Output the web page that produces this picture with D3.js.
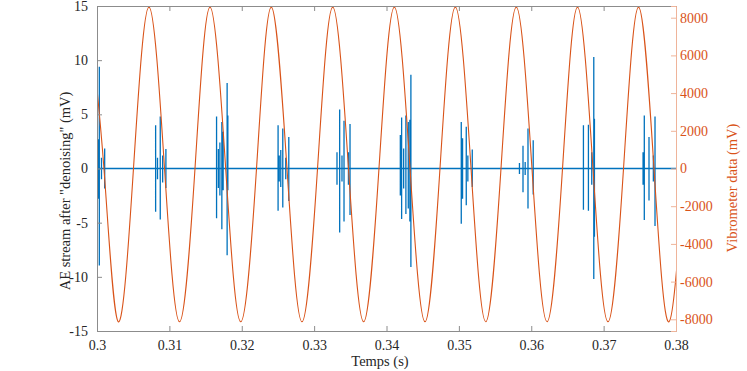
<!DOCTYPE html>
<html>
<head>
<meta charset="utf-8">
<script src="https://cdn.jsdelivr.net/npm/d3@7"></script>
<style>
  body { margin: 0; background: #fff; }
  text { font-family: "Liberation Serif", "DejaVu Serif", serif; }
</style>
</head>
<body>
<div id="chart"></div>
<script>
// AE spikes (time in s, positive / negative excursion in mV)
var aeTime = [0.30017, 0.30032, 0.30062, 0.30106,
    0.30810, 0.30836, 0.30874, 0.30907, 0.30952,
    0.31652, 0.31677, 0.31698, 0.31725, 0.31743, 0.31798, 0.31808,
    0.32502, 0.32518, 0.32539, 0.32567, 0.32608, 0.32650,
    0.33316, 0.33353, 0.33385, 0.33413, 0.33474, 0.33496,
    0.34191, 0.34209, 0.34237, 0.34268, 0.34301, 0.34323, 0.34337,
    0.35033, 0.35051, 0.35102, 0.35124, 0.35185,
    0.35837, 0.35886, 0.35916, 0.35955, 0.36027,
    0.36721, 0.36790, 0.36836, 0.36864, 0.36873,
    0.37545, 0.37562, 0.37627, 0.37687, 0.37710];
var aeHigh = [2.7, 9.4, 1.0, 1.85,
    4.0, 1.0, 4.8, 1.2, 1.8,
    4.8, 1.8, 2.4, 4.3, 3.4, 7.9, 4.9,
    4.0, 1.2, 1.7, 3.7, 1.0, 2.9,
    1.5, 5.45, 1.2, 4.4, 1.5, 4.1,
    3.1, 4.7, 1.85, 4.9, 4.3, 4.5, 8.65,
    4.3, 2.8, 3.85, 1.2, 1.75,
    0.5, 2.1, 0.6, 3.7, 2.6,
    4.0, 4.05, 1.5, 10.3, 4.6,
    1.5, 4.9, 2.9, 1.2, 4.8];
var aeLow = [-2.8, -8.95, -1.0, -1.85,
    -4.0, -1.0, -4.7, -1.3, -1.8,
    -4.6, -1.8, -2.5, -5.6, -2.0, -8.0, -2.0,
    -3.9, -1.2, -1.7, -3.6, -1.0, -3.0,
    -1.5, -5.9, -1.2, -4.9, -1.5, -4.3,
    -2.5, -4.65, -1.85, -4.2, -3.7, -4.9, -9.1,
    -5.1, -2.8, -3.4, -1.2, -1.7,
    -0.5, -2.2, -0.6, -3.7, -2.4,
    -3.8, -3.9, -1.5, -10.2, -6.3,
    -1.5, -4.75, -2.95, -1.2, -5.3];

// vibrometer signal read at extrema and zero crossings (first and last go just past the axis)
var vibTime = [0.29881, 0.30096, 0.30294, 0.30504, 0.30718, 0.30933,
    0.31140, 0.31354, 0.31561, 0.31778,
    0.31986, 0.32204, 0.32408, 0.32625,
    0.32832, 0.33047, 0.33257, 0.33475,
    0.33684, 0.33896, 0.34108, 0.34325,
    0.34532, 0.34739, 0.34951, 0.35168,
    0.35371, 0.35582, 0.35793, 0.36010,
    0.36218, 0.36432, 0.36639, 0.36853,
    0.37060, 0.37275, 0.37482, 0.37696,
    0.37903, 0.38117, 0.38325];
var vibValue = [8560, 0, -8130, 0, 8560, 0,
    -8130, 0, 8560, 0,
    -8130, 0, 8560, 0,
    -8130, 0, 8560, 0,
    -8130, 0, 8560, 0,
    -8130, 0, 8560, 0,
    -8130, 0, 8560, 0,
    -8130, 0, 8560, 0,
    -8130, 0, 8560, 0,
    -8130, 0, 8560];

var xTicks = [0.3, 0.31, 0.32, 0.33, 0.34, 0.35, 0.36, 0.37, 0.38];
var yLeftTicks = [-15, -10, -5, 0, 5, 10, 15];
var yRightTicks = [-8000, -6000, -4000, -2000, 0, 2000, 4000, 6000, 8000];

var blue = "#0072BD", orange = "#D95319", dark = "#262626";

var margin = { top: 6, right: 71, bottom: 40, left: 97 },
    width = 747 - margin.left - margin.right,
    height = 371 - margin.top - margin.bottom;

var svg = d3.select("#chart")
    .append("svg")
    .attr("width", 747)
    .attr("height", 371);

svg.append("clipPath")
    .attr("id", "plotClip")
    .append("rect")
    .attr("width", width)
    .attr("height", height);

var g = svg.append("g")
    .attr("transform", "translate(" + margin.left + "," + margin.top + ")");

var x = d3.scaleLinear().domain([0.3, 0.38]).range([0, width]);
var yL = d3.scaleLinear().domain([-15, 15]).range([height, 0]);
var yR = d3.scaleLinear().domain([-8620, 8620]).range([height, 0]);

var plot = g.append("g").attr("clip-path", "url(#plotClip)");

// AE stream as one path: baseline with vertical spikes
var aePts = [[0.3, 0]];
for (var i = 0; i < aeTime.length; i++) {
    aePts.push([aeTime[i], 0], [aeTime[i], aeHigh[i]], [aeTime[i], aeLow[i]], [aeTime[i], 0]);
}
aePts.push([0.38, 0]);

plot.append("path")
    .datum(aePts)
    .attr("fill", "none")
    .attr("stroke", blue)
    .attr("stroke-width", 1.3)
    .attr("d", d3.line()
        .x(function (d) { return x(d[0]); })
        .y(function (d) { return yL(d[1]); }));

var vib = vibTime.map(function (t, i) { return [t, vibValue[i]]; });
plot.append("path")
    .datum(vib)
    .attr("fill", "none")
    .attr("stroke", orange)
    .attr("stroke-width", 1.1)
    .attr("d", d3.line()
        .curve(d3.curveNatural)
        .x(function (d) { return x(d[0]); })
        .y(function (d) { return yR(d[1]); }));

// axes (ticks pointing inward like matlab)
var xAxis = g.append("g")
    .attr("transform", "translate(0," + height + ")")
    .call(d3.axisBottom(x).tickValues(xTicks).tickSize(-5).tickPadding(9)
        .tickFormat(function (d) { return d3.format("")(+d.toFixed(2)); }));

var xTop = g.append("g")
    .call(d3.axisTop(x).tickValues(xTicks).tickSize(-5).tickFormat(""));

var yAxisL = g.append("g")
    .call(d3.axisLeft(yL).tickValues(yLeftTicks).tickSize(-5).tickPadding(9)
        .tickFormat(function (d) { return String(d); }));

var yAxisR = g.append("g")
    .attr("transform", "translate(" + width + ",0)")
    .call(d3.axisRight(yR).tickValues(yRightTicks).tickSize(-5).tickPadding(9)
        .tickFormat(function (d) { return String(d); }));

[xAxis, xTop, yAxisL].forEach(function (a) {
    a.select(".domain").attr("stroke", "#8c8c8c");
    a.selectAll(".tick line").attr("stroke", "#8c8c8c");
    a.selectAll(".tick text").attr("fill", dark).style("font-size", "14px");
});
yAxisR.select(".domain").attr("stroke", "#efb49a");
yAxisR.selectAll(".tick line").attr("stroke", "#efb49a");
yAxisR.selectAll(".tick text").attr("fill", orange).style("font-size", "14px");
yAxisR.selectAll(".tick text").attr("x", 4);

// labels
svg.append("text")
    .attr("x", 380)
    .attr("y", 366)
    .attr("text-anchor", "middle")
    .attr("fill", dark)
    .style("font-size", "14.5px")
    .text("Temps (s)");

svg.append("text")
    .attr("transform", "translate(70,191)rotate(-90)")
    .attr("text-anchor", "middle")
    .attr("fill", dark)
    .style("font-size", "14.5px")
    .text("AE stream after \"denoising\" (mV)");

svg.append("text")
    .attr("transform", "translate(737,188)rotate(-90)")
    .attr("text-anchor", "middle")
    .attr("fill", orange)
    .style("font-size", "14.5px")
    .text("Vibrometer data (mV)");
</script>
</body>
</html>
